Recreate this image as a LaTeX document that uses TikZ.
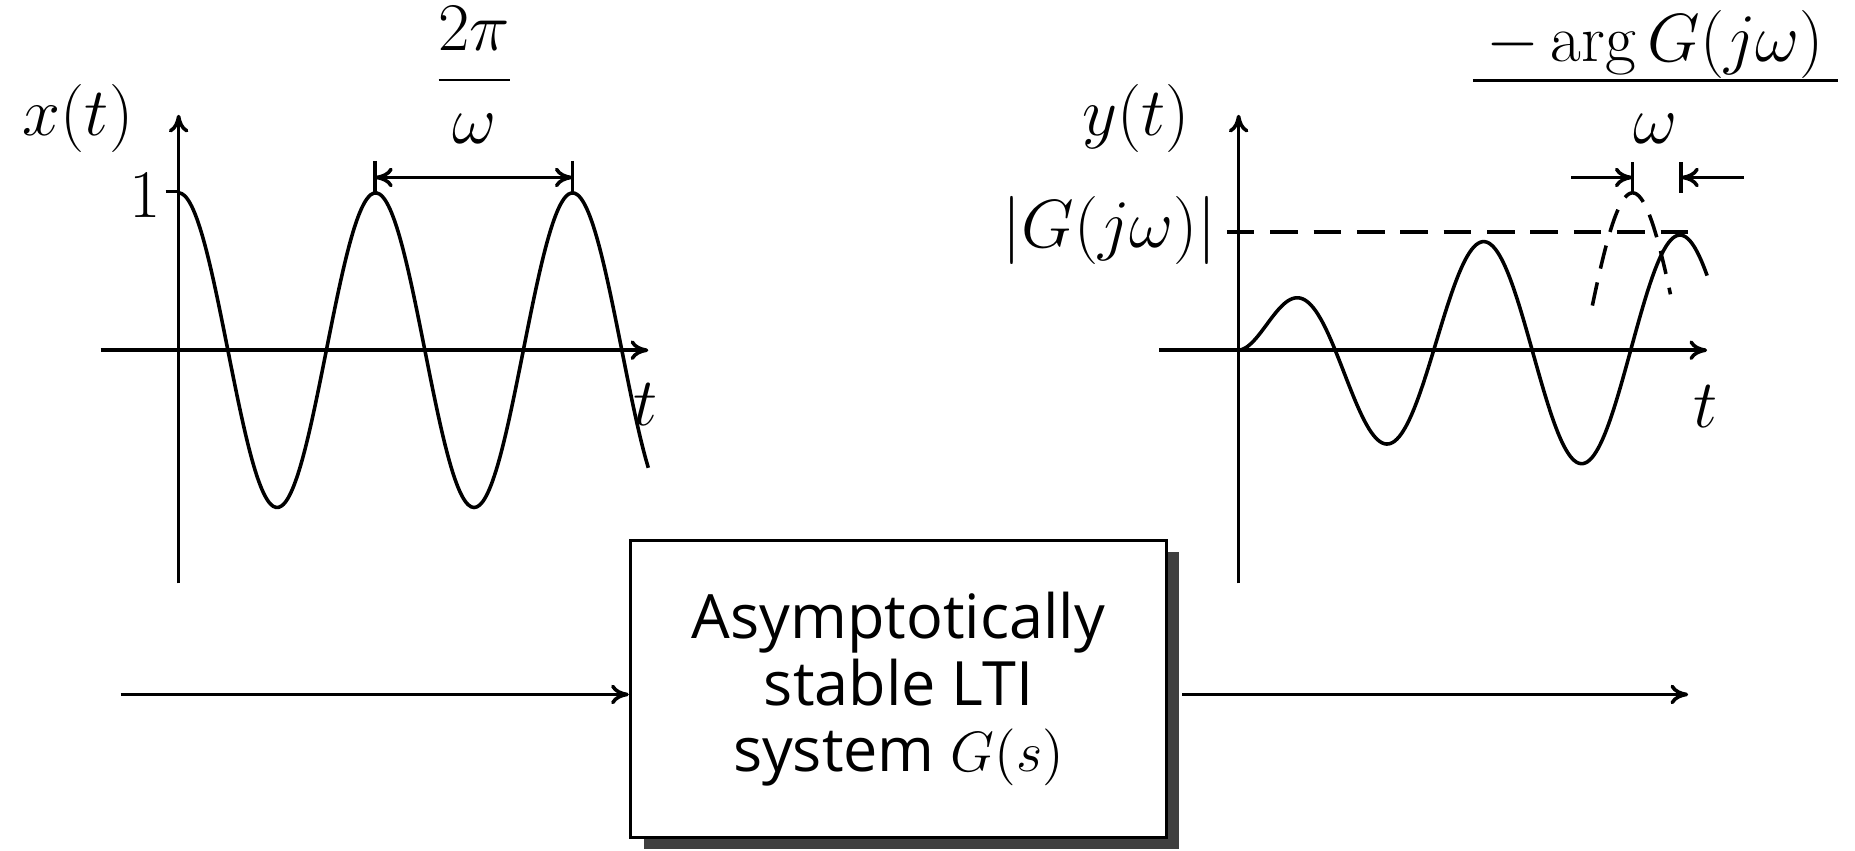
\documentclass[tikz,border=0pt]{standalone}
\usepackage{fontspec}
\setsansfont{Open Sans}
\usetikzlibrary{arrows.meta,shadows}
\definecolor{shadowgray}{HTML}{404040}
\begin{document}
\begin{tikzpicture}[x=0.3pt,y=-0.3pt,
  line width=0.9pt,
  ar/.style={-{To[length=4.5pt,width=5pt]}},
  dar/.style={{To[length=4.5pt,width=5pt]}-{To[length=4.5pt,width=5pt]}},
  lbl/.style={inner sep=0pt, font=\fontsize{17}{20}\selectfont},
  sig/.style={line width=0.9pt, line join=round},
  dsh/.style={dash pattern=on 7pt off 4pt},
  sysbox/.style={draw, fill=white, line width=0.9pt, minimum width=135.9pt,
    minimum height=75.3pt, inner sep=0pt, align=center,
    font=\sffamily\fontsize{15.5}{16.8}\selectfont,
    drop shadow={shadow xshift=3.3pt, shadow yshift=-3pt, fill=shadowgray, opacity=1}}
]
\useasboundingbox (0,0) rectangle (1568,719);

% ---------- left plot (input) ----------
\node[lbl] (xl) at (66,100) {$x(t)$};
\node[lbl, anchor=east] (one) at (137,165) {$1$};
\node[lbl] (tl) at (546,342) {$t$};
\node[lbl, anchor=base] (fl) at (401,82) {$\displaystyle\frac{2\pi}{\omega}$};

\draw[ar] (151,493) -- (151,97);
\draw[ar] (85,296) -- (548,296);
\draw (140,162) -- (151,162);
\draw[sig] plot[domain=151:548, samples=160, smooth] (\x, {296-133*cos((\x-151)*2.16216)});

\draw (317,136) -- (317,162);
\draw (484,136) -- (484,162);
\draw[dar] (317,150) -- (484,150);

% ---------- right plot (output) ----------
\node[lbl] (yl) at (960,100) {$y(t)$};
\node[lbl, anchor=east] (gl) at (1030,195) {$|G(j\omega)|$};
\node[lbl] (tr) at (1442,344) {$t$};
\node[lbl, anchor=base] (frn) at (1399,52) {$-\arg G(j\omega)$};
\node[lbl, anchor=base] (frd) at (1399,121) {$\omega$};
\coordinate (barl) at (1245,68);
\coordinate (barr) at (1554,68);
\draw[line width=0.7pt] (barl) -- (barr);

\draw[ar] (1047,493) -- (1047,97);
\draw[ar] (980,296) -- (1443,296);
\draw[dsh] (1037,196) -- (1440,196);
\draw[sig] plot[domain=1047:1443, samples=220, smooth]
  (\x, {296-98*(1-exp(-(\x-1047)/75))*cos((\x-1047)*2.16216-86.5)});
\draw[sig, dash pattern=on 6pt off 3.6pt] plot[domain=1346:1412, samples=40, smooth]
  (\x, {296-133*cos((\x-1380)*2.16216)});

\draw (1380,137) -- (1380,163);
\draw (1421,137) -- (1421,163);
\draw[ar] (1328,150) -- (1380,150);
\draw[ar] (1474,150) -- (1421,150);

% ---------- system block ----------
\node[sysbox] (sys) at (759.5,582.5) {Asymptotically\\stable LTI\\system $G(s)$};

\coordinate (in) at (102,587);
\coordinate (out) at (1427,587);
\coordinate (shr) at ([xshift=3.6pt]sys.east);
\draw[ar] (in) -- (in -| sys.west);
\draw[ar] (shr |- out) -- (out);
\end{tikzpicture}
\end{document}
